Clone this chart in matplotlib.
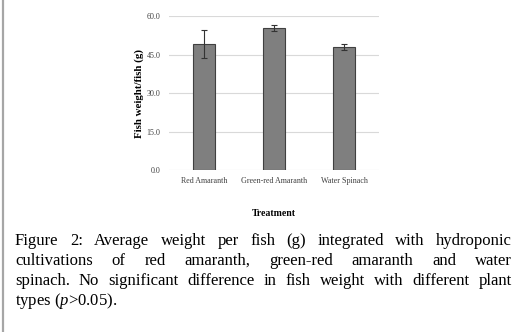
import matplotlib
matplotlib.use('Agg')
import matplotlib.pyplot as plt
from matplotlib.lines import Line2D

plt.rcParams['font.family'] = ['Liberation Serif', 'DejaVu Serif']
plt.rcParams['mathtext.fontset'] = 'custom'
plt.rcParams['mathtext.it'] = 'Liberation Serif:italic'
plt.rcParams['mathtext.rm'] = 'Liberation Serif'

treatments = ['Red Amaranth', 'Green-red Amaranth', 'Water Spinach']
weights = [49.1, 55.2, 47.9]
errors = [5.5, 1.2, 1.2]
yticks = [0, 15, 30, 45, 60]

caption_lines = [
    'Figure 2: Average weight per fish (g) integrated with hydroponic',
    'cultivations of red amaranth, green-red amaranth and water',
    'spinach. No significant difference in fish weight with different plant',
]

W, H = 517, 332
fig = plt.figure(figsize=(W / 100, H / 100), dpi=100)
ax = fig.add_axes([169 / W, 1 - 170.3 / H, 210 / W, 154.3 / H])

x = range(len(treatments))
ax.bar(x, weights, width=0.31, color='#7f7f7f', edgecolor='#404040', linewidth=0.8, zorder=3)
ax.errorbar(x, weights, yerr=errors, fmt='none', ecolor='#333333', elinewidth=0.8,
            capsize=2.5, capthick=0.8, zorder=4)

ax.set_xlim(-0.5, 2.5)
ax.set_ylim(0, 60)
ax.set_yticks(yticks)
ax.set_yticklabels([f'{v:.1f}' for v in yticks])
ax.set_xticks(list(x))
ax.set_xticklabels(treatments)
ax.tick_params(length=0, labelsize=5.8, colors='#404040', pad=6)
ax.tick_params(axis='x', pad=5)
ax.grid(axis='y', color='#d9d9d9', linewidth=0.8, zorder=0)
for s in ax.spines.values():
    s.set_visible(False)
ax.set_ylabel('Fish weight/fish (g)', fontsize=7.8, fontweight='bold', labelpad=2)
ax.set_xlabel('Treatment', fontsize=7, fontweight='bold', labelpad=17)

# page border on the left
fig.add_artist(Line2D([2.5 / W, 2.5 / W], [0, 1], color='#a6a6a6', linewidth=1.6))

# justified caption
fs = 12
left, right = 15, 512
baselines = [245, 265, 285, 305]
fig.canvas.draw()
renderer = fig.canvas.get_renderer()
for line, base in zip(caption_lines, baselines):
    words = line.split(' ')
    widths = []
    for w in words:
        t = fig.text(0, 0, w, fontsize=fs)
        widths.append(t.get_window_extent(renderer).width)
        t.remove()
    gap = (right - left - sum(widths)) / (len(words) - 1)
    xp = left
    for w, wd in zip(words, widths):
        fig.text(xp / W, 1 - base / H, w, fontsize=fs, va='baseline', ha='left')
        xp += wd + gap
fig.text(left / W, 1 - baselines[3] / H, r'types ($\mathit{p}$>0.05).', fontsize=fs,
         va='baseline', ha='left')

fig.savefig('out.png', dpi=100)
